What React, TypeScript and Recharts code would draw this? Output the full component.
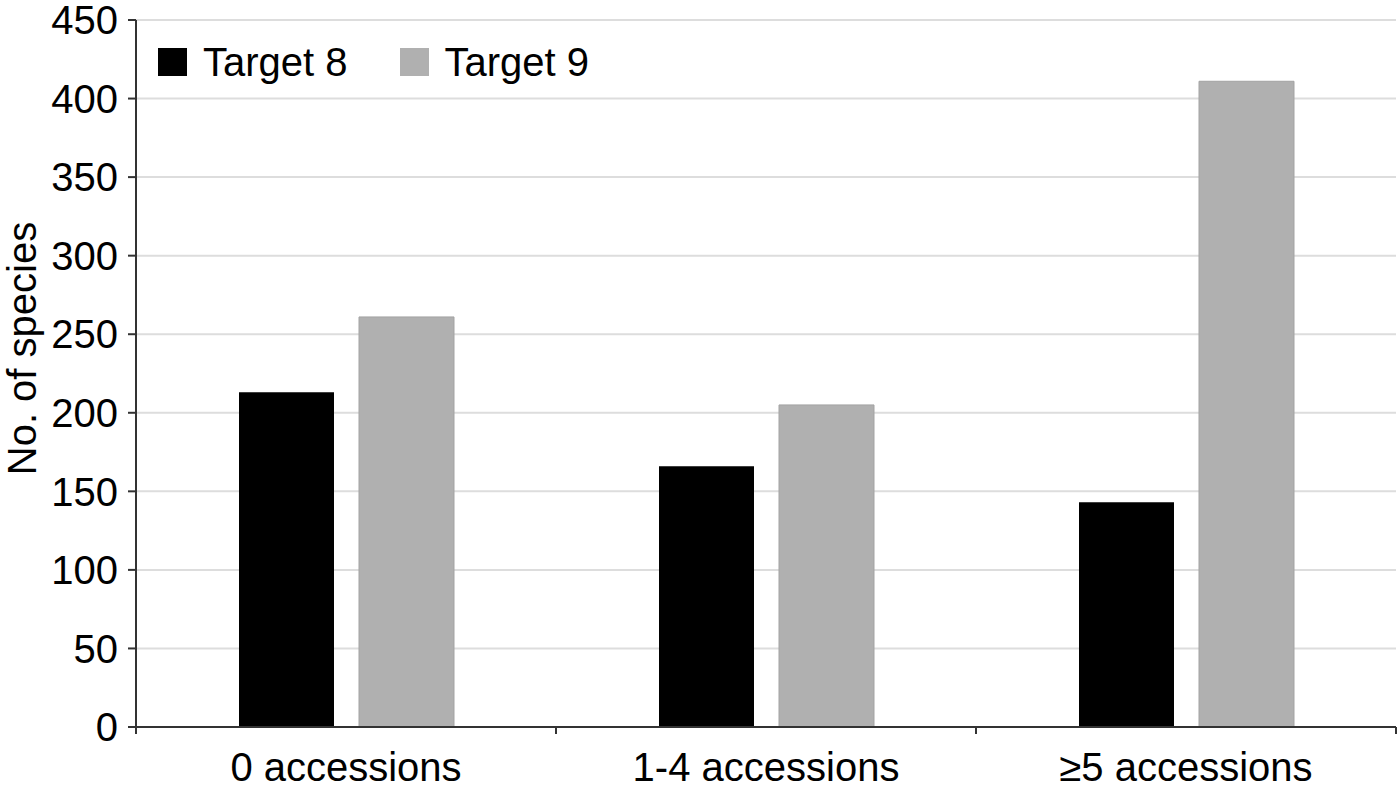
import { BarChart, Bar, XAxis, YAxis, CartesianGrid, Legend } from "recharts";

const categories = ["0 accessions", "1-4 accessions", "\u22655 accessions"];
const target8 = [213, 166, 143];
const target9 = [261, 205, 411];
const yTicks = [0, 50, 100, 150, 200, 250, 300, 350, 400, 450];

const data = categories.map((name, i) => ({
  name,
  target8: target8[i],
  target9: target9[i],
}));

const FONT = "'Liberation Sans', Arial, Helvetica, sans-serif";
const AXIS = "#333333";

function XTick(props: any) {
  const { x, y, payload, index, width, visibleTicksCount } = props;
  const band = width / visibleTicksCount;
  const left = x - band / 2;
  const right = x + band / 2;
  return (
    <g>
      <line x1={left} x2={left} y1={y} y2={y + 7} stroke={AXIS} strokeWidth={2} />
      {index === visibleTicksCount - 1 && (
        <line x1={right} x2={right} y1={y} y2={y + 7} stroke={AXIS} strokeWidth={2} />
      )}
      <text
        x={x}
        y={y + 54}
        textAnchor="middle"
        fontSize={40}
        fontFamily={FONT}
        fill="#000"
      >
        {payload.value}
      </text>
    </g>
  );
}

function LegendContent(props: any) {
  const items = props.payload || [];
  return (
    <div style={{ display: "flex", alignItems: "center", fontFamily: FONT, fontSize: 40 }}>
      {items.map((it: any, i: number) => (
        <div key={i} style={{ display: "flex", alignItems: "center", marginRight: 52 }}>
          <span
            style={{
              display: "inline-block",
              width: 29,
              height: 28,
              background: it.color,
              marginRight: 16,
            }}
          />
          <span style={{ color: "#000", lineHeight: "40px" }}>{it.value}</span>
        </div>
      ))}
    </div>
  );
}

export default function App() {
  return (
    <div style={{ position: "absolute", left: 0, top: 0, background: "#fff" }}>
      <BarChart
        width={1400}
        height={793}
        data={data}
        margin={{ top: 20, right: 4, bottom: 0, left: 0 }}
        barCategoryGap={103}
        barGap={25}
      >
        <CartesianGrid vertical={false} stroke="#dddddd" strokeWidth={2} />
        <XAxis
          dataKey="name"
          height={66}
          axisLine={{ stroke: AXIS, strokeWidth: 2 }}
          tickLine={false}
          tickSize={0}
          tickMargin={0}
          tick={<XTick />}
          interval={0}
        />
        <YAxis
          width={136}
          domain={[0, 450]}
          ticks={yTicks}
          interval={0}
          axisLine={{ stroke: AXIS, strokeWidth: 2 }}
          tickLine={{ stroke: AXIS, strokeWidth: 2 }}
          tickSize={8}
          tickMargin={10}
          tick={{ fill: "#000", fontSize: 40, fontFamily: FONT }}
          label={{
            content: (p: any) => {
              const vb = p.viewBox;
              const cy = vb.y + vb.height / 2 - 25;
              return (
                <text
                  x={22}
                  y={cy}
                  transform={`rotate(-90, 22, ${cy})`}
                  textAnchor="middle"
                  dominantBaseline="central"
                  fontSize={40}
                  fontFamily={FONT}
                  fill="#000"
                >
                  No. of species
                </text>
              );
            },
          }}
        />
        <Legend
          layout="horizontal"
          verticalAlign="middle"
          align="center"
          content={<LegendContent />}
          wrapperStyle={{ left: 158, top: 42, width: "auto" }}
        />
        <Bar dataKey="target8" name="Target 8" fill="#000000" isAnimationActive={false} />
        <Bar
          dataKey="target9"
          name="Target 9"
          fill="#b0b0b0"
          stroke="#a3a3a3"
          strokeWidth={1}
          isAnimationActive={false}
        />
      </BarChart>
    </div>
  );
}
